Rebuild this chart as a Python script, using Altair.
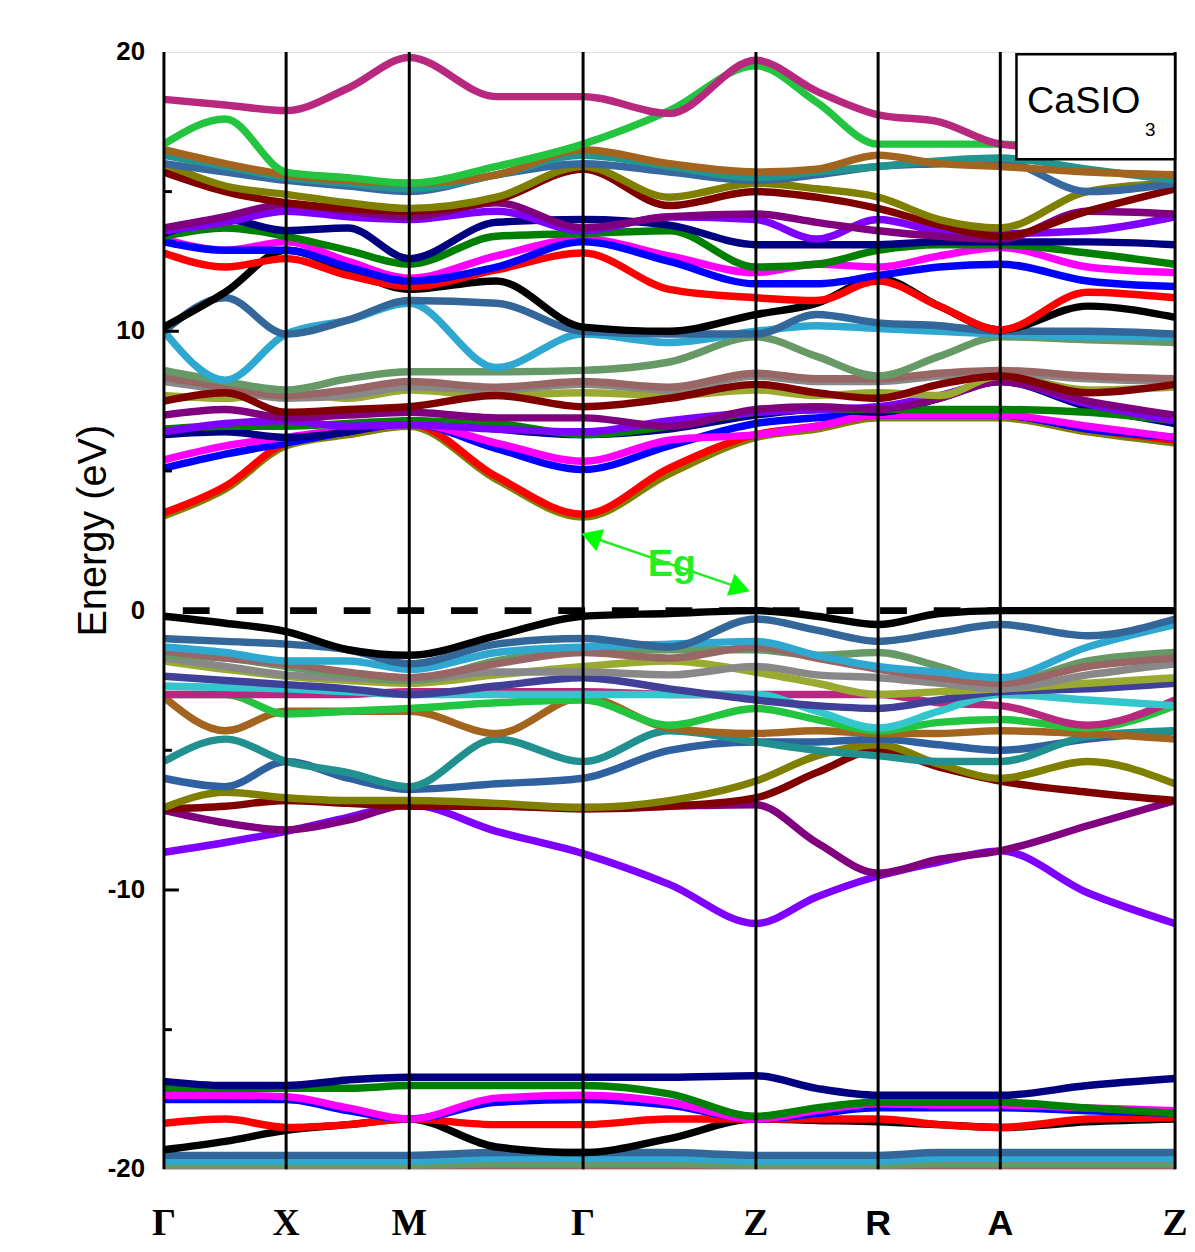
import altair as alt
import pandas as pd

# k-path: grid positions (high-symmetry points at even indices)
K_GRID = [0.0, 0.5, 0.996, 1.5, 2.0, 2.71, 3.417, 4.12, 4.826, 5.32, 5.822, 6.32, 6.818, 7.53, 8.243]
K_POINTS = [0.0, 0.996, 2.0, 3.417, 4.826, 5.822, 6.818, 8.243]
K_LABELS_SERIF = ["Γ", "X", "M", "Γ", "Z", "", "", "Z"]
K_LABELS_SANS = ["", "", "", "", "", "R", "A", ""]
Y_TICKS = [20, 10, 0, -10, -20]
Y_TICK_LABELS = ["20", "10", "0", "-10", "-20"]
MAJOR_TICKS = [10, -10]
MINOR_TICKS = [15, 5, -5, -15]

# conduction bands (eV)
cb_pink = [18.3, 18.1, 17.9, 18.7, 19.8, 18.4, 18.4, 17.8, 19.7, 18.6, 17.75, 17.5, 16.7, 16.5, 16.4]
cb_lime = [16.7, 17.6, 15.7, 15.5, 15.3, 15.9, 16.7, 17.9, 19.5, 18.2, 16.7, 16.7, 16.7, 16.5, 16.4]
cb_brown = [16.5, 16.0, 15.6, 15.4, 15.3, 15.6, 16.5, 16.0, 15.7, 15.8, 16.3, 16.0, 15.9, 15.7, 15.6]
cb_teal = [16.3, 15.9, 15.5, 15.3, 15.1, 15.6, 16.3, 15.9, 15.5, 15.7, 15.9, 16.1, 16.2, 15.8, 15.4]
cb_steel = [16.0, 15.7, 15.4, 15.2, 15.0, 15.6, 16.0, 15.7, 15.4, 15.6, 15.9, 16.0, 16.1, 15.0, 15.3]
cb_olive = [16.0, 15.2, 14.9, 14.6, 14.4, 14.8, 15.9, 14.8, 15.3, 15.1, 14.8, 14.0, 13.7, 15.0, 15.3]
cb_wine = [15.7, 15.0, 14.6, 14.4, 14.3, 14.7, 15.8, 14.5, 15.0, 14.8, 14.4, 13.8, 13.4, 14.3, 15.1]
cb_purple = [13.7, 14.1, 14.55, 14.3, 14.1, 14.6, 13.7, 14.1, 14.2, 13.9, 13.6, 13.4, 13.3, 14.3, 14.2]
cb_violet = [13.6, 13.9, 14.3, 14.1, 14.0, 14.3, 13.6, 14.1, 14.0, 13.3, 14.0, 13.6, 13.5, 13.6, 14.1]
cb_navy = [13.5, 14.0, 13.6, 13.7, 12.6, 13.9, 14.0, 13.8, 13.1, 13.1, 13.1, 13.2, 13.2, 13.2, 13.1]
cb_green = [13.4, 13.7, 13.4, 12.9, 12.4, 13.4, 13.5, 13.6, 12.3, 12.4, 12.9, 13.1, 13.1, 12.8, 12.4]
cb_blue = [13.2, 12.9, 12.9, 12.3, 11.8, 12.3, 13.2, 12.5, 11.7, 11.7, 12.0, 12.3, 12.4, 11.8, 11.6]
cb_magenta = [13.3, 12.9, 13.2, 12.5, 11.9, 12.7, 13.3, 12.7, 12.1, 12.4, 12.3, 12.7, 13.0, 12.3, 12.1]
cb_red = [12.8, 12.3, 12.6, 12.0, 11.6, 12.2, 12.8, 11.5, 11.2, 11.1, 11.8, 10.9, 10.05, 11.4, 11.2]
cb_black = [10.15, 11.4, 12.9, 12.2, 11.5, 11.8, 10.15, 10.0, 10.6, 11.0, 11.9, 10.9, 10.05, 10.9, 10.5]
cb_steel2 = [10.0, 11.2, 9.9, 10.4, 11.1, 11.0, 10.0, 9.9, 9.9, 10.6, 10.3, 10.2, 10.0, 10.0, 9.9]
cb_sky = [10.0, 8.25, 9.9, 10.4, 11.0, 8.7, 9.9, 9.6, 10.0, 10.2, 10.1, 10.0, 9.9, 9.8, 9.8]
cb_sage = [8.6, 8.2, 7.9, 8.3, 8.55, 8.55, 8.6, 8.9, 9.8, 9.1, 8.4, 9.1, 9.8, 9.7, 9.6]
cb_rosy = [8.35, 8.0, 7.7, 7.9, 8.2, 8.0, 8.2, 8.0, 8.5, 8.3, 8.3, 8.5, 8.6, 8.4, 8.3]
cb_gray = [8.2, 7.9, 7.6, 7.7, 8.0, 7.9, 8.1, 7.9, 8.4, 8.2, 8.2, 8.4, 8.5, 8.3, 8.2]
cb_ygreen = [7.7, 7.6, 7.8, 7.6, 7.9, 7.7, 7.8, 7.7, 7.9, 7.7, 7.8, 7.7, 8.4, 7.9, 8.0]
cb_wine2 = [7.5, 7.8, 7.1, 7.2, 7.3, 7.7, 7.3, 7.6, 8.1, 7.8, 7.6, 8.1, 8.4, 7.8, 8.1]
cb_purple2 = [7.0, 7.2, 6.9, 7.0, 7.1, 6.9, 6.9, 6.6, 7.2, 7.3, 7.2, 7.6, 8.2, 7.5, 7.0]
cb_violet2 = [6.4, 6.7, 6.8, 6.6, 6.65, 6.5, 6.4, 6.8, 7.1, 7.2, 7.3, 7.7, 8.2, 7.4, 6.8]
cb_green2 = [6.5, 6.6, 6.6, 6.7, 6.8, 6.7, 6.3, 6.6, 7.1, 7.2, 7.2, 7.2, 7.2, 7.1, 6.8]
cb_navy2 = [6.3, 6.4, 6.2, 6.4, 6.8, 6.5, 6.3, 6.5, 7.0, 7.2, 7.1, 7.6, 8.2, 7.3, 6.7]
cb_blue2 = [5.1, 5.6, 6.0, 6.4, 6.7, 5.8, 5.05, 5.9, 6.7, 6.9, 7.0, 7.0, 7.0, 6.5, 6.2]
cb_magenta2 = [5.4, 5.9, 6.2, 6.5, 6.7, 6.0, 5.35, 6.1, 6.3, 6.6, 7.0, 7.0, 7.0, 6.6, 6.2]
cb_olive2 = [3.4, 4.35, 5.9, 6.3, 6.6, 4.7, 3.35, 4.9, 6.2, 6.5, 6.9, 6.9, 6.9, 6.4, 6.0]
cb_red2 = [3.5, 4.45, 6.0, 6.4, 6.7, 4.8, 3.45, 5.1, 6.3, 6.6, 7.0, 7.0, 7.0, 6.5, 6.1]

# valence bands (eV)
vb_violet = [-8.65, -8.3, -7.9, -7.4, -6.95, -7.9, -8.7, -9.8, -11.2, -10.25, -9.5, -9.0, -8.6, -10.1, -11.2]
vb_purple = [-7.15, -7.6, -7.85, -7.5, -6.95, -7.0, -7.05, -7.0, -6.95, -8.3, -9.4, -8.9, -8.6, -7.7, -6.8]
vb_wine = [-7.1, -7.0, -6.8, -6.9, -7.0, -7.0, -7.1, -7.0, -6.7, -5.8, -5.0, -5.6, -6.1, -6.5, -6.8]
vb_olive = [-7.05, -6.5, -6.7, -6.8, -6.8, -6.9, -7.05, -6.8, -6.1, -5.2, -4.8, -5.5, -6.0, -5.4, -6.2]
vb_steel2 = [-6.0, -6.3, -5.4, -6.0, -6.4, -6.2, -6.0, -5.0, -4.7, -4.7, -4.6, -4.8, -5.0, -4.6, -4.3]
vb_teal = [-5.4, -4.6, -5.4, -5.8, -6.3, -4.6, -5.4, -4.3, -4.7, -5.0, -5.2, -5.4, -5.4, -4.5, -4.3]
vb_brown = [-3.1, -4.3, -3.6, -3.6, -3.6, -4.4, -3.1, -4.2, -4.4, -4.3, -4.4, -4.4, -4.3, -4.4, -4.6]
vb_lime = [-3.0, -3.0, -3.7, -3.6, -3.5, -3.3, -3.2, -4.1, -3.5, -3.9, -4.3, -4.0, -3.9, -4.2, -3.4]
vb_pink = [-3.0, -3.0, -3.0, -3.0, -2.9, -2.9, -2.9, -3.0, -3.0, -3.0, -3.0, -3.3, -3.4, -4.1, -3.2]
vb_cyan = [-2.7, -2.75, -2.8, -2.9, -3.0, -3.0, -3.0, -3.0, -3.0, -3.6, -4.2, -3.6, -3.0, -3.2, -3.4]
vb_slate = [-2.35, -2.5, -2.65, -2.8, -3.0, -2.7, -2.4, -2.8, -3.2, -3.4, -3.5, -3.2, -2.9, -2.8, -2.6]
vb_ygreen = [-1.8, -2.1, -2.35, -2.5, -2.6, -2.3, -2.0, -1.8, -2.2, -2.6, -3.0, -2.9, -2.8, -2.6, -2.4]
vb_gray = [-1.7, -2.0, -2.3, -2.4, -2.5, -2.2, -2.2, -2.3, -2.0, -2.3, -2.4, -2.6, -2.8, -2.3, -1.9]
vb_sage = [-1.6, -1.7, -2.0, -2.3, -2.5, -1.8, -1.4, -1.4, -1.4, -1.6, -1.5, -2.0, -2.6, -1.8, -1.5]
vb_rosy = [-1.45, -1.7, -1.9, -2.2, -2.4, -1.9, -1.5, -1.7, -1.3, -1.7, -2.1, -2.4, -2.6, -2.0, -1.7]
vb_sky = [-1.3, -1.5, -1.8, -1.8, -2.1, -1.5, -1.3, -1.2, -1.1, -1.6, -2.0, -2.2, -2.4, -1.3, -0.5]
vb_steel = [-1.0, -1.1, -1.2, -1.4, -1.9, -1.2, -1.0, -1.3, -0.3, -0.7, -1.1, -0.8, -0.5, -0.9, -0.3]
vb_black = [-0.2, -0.45, -0.75, -1.4, -1.6, -0.9, -0.2, -0.1, 0.0, -0.2, -0.5, -0.1, 0.0, 0.0, 0.0]

# semicore bands (eV)
sc_rosy = [-20.0, -20.0, -20.0, -20.0, -20.0, -20.0, -19.95, -20.0, -20.0, -20.0, -20.0, -20.0, -20.0, -20.0, -20.0]
sc_sage = [-19.85, -19.85, -19.85, -19.85, -19.85, -19.8, -19.8, -19.8, -19.85, -19.85, -19.85, -19.8, -19.8, -19.8, -19.8]
sc_sky = [-19.7, -19.7, -19.7, -19.7, -19.7, -19.6, -19.6, -19.6, -19.7, -19.7, -19.7, -19.6, -19.6, -19.6, -19.6]
sc_steel = [-19.5, -19.5, -19.5, -19.5, -19.5, -19.4, -19.4, -19.4, -19.5, -19.5, -19.5, -19.4, -19.4, -19.4, -19.4]
sc_black = [-19.3, -19.0, -18.6, -18.4, -18.2, -19.2, -19.4, -18.9, -18.2, -18.25, -18.3, -18.4, -18.5, -18.3, -18.2]
sc_red = [-18.35, -18.2, -18.5, -18.4, -18.2, -18.4, -18.4, -18.2, -18.2, -18.2, -18.2, -18.4, -18.5, -18.2, -18.15]
sc_blue = [-17.5, -17.5, -17.5, -17.9, -18.2, -17.6, -17.5, -17.7, -18.2, -18.0, -17.8, -17.8, -17.8, -17.9, -18.0]
sc_magenta = [-17.35, -17.35, -17.4, -17.8, -18.2, -17.45, -17.35, -17.6, -18.2, -17.9, -17.65, -17.7, -17.7, -17.8, -17.9]
sc_green = [-17.1, -17.1, -17.1, -17.1, -17.0, -17.0, -17.0, -17.3, -18.1, -17.8, -17.6, -17.6, -17.6, -17.8, -18.0]
sc_navy = [-16.85, -17.0, -17.0, -16.8, -16.7, -16.7, -16.7, -16.7, -16.65, -17.1, -17.35, -17.35, -17.35, -17.0, -16.75]

BANDS = [
    ("b01", "#996666", sc_rosy), ("b02", "#669966", sc_sage), ("b03", "#2EA8D0", sc_sky),
    ("b04", "#336699", sc_steel), ("b05", "#000000", sc_black), ("b06", "#FF0000", sc_red),
    ("b07", "#0000FF", sc_blue), ("b08", "#FF00FF", sc_magenta), ("b09", "#008000", sc_green),
    ("b10", "#000080", sc_navy),
    ("b11", "#8000FF", vb_violet), ("b12", "#800080", vb_purple), ("b13", "#800000", vb_wine),
    ("b14", "#808000", vb_olive), ("b15", "#2F60A0", vb_steel2), ("b16", "#20918F", vb_teal),
    ("b17", "#A2641E", vb_brown), ("b18", "#22C440", vb_lime), ("b19", "#B8287E", vb_pink),
    ("b20", "#33C6CC", vb_cyan), ("b21", "#404099", vb_slate), ("b22", "#9AAA30", vb_ygreen),
    ("b23", "#888888", vb_gray), ("b24", "#669966", vb_sage), ("b25", "#996666", vb_rosy),
    ("b26", "#2EA8D0", vb_sky), ("b27", "#336699", vb_steel), ("b28", "#000000", vb_black),
    ("b29", "#808000", cb_olive2), ("b30", "#FF0000", cb_red2), ("b31", "#0000FF", cb_blue2),
    ("b32", "#FF00FF", cb_magenta2), ("b33", "#000080", cb_navy2), ("b34", "#008000", cb_green2),
    ("b35", "#8000FF", cb_violet2), ("b36", "#800080", cb_purple2), ("b37", "#9AAA30", cb_ygreen),
    ("b38", "#888888", cb_gray), ("b39", "#996666", cb_rosy), ("b40", "#800000", cb_wine2),
    ("b41", "#669966", cb_sage), ("b42", "#2EA8D0", cb_sky), ("b43", "#336699", cb_steel2),
    ("b44", "#000000", cb_black), ("b45", "#FF0000", cb_red), ("b46", "#FF00FF", cb_magenta),
    ("b47", "#0000FF", cb_blue), ("b48", "#008000", cb_green), ("b49", "#000080", cb_navy),
    ("b50", "#8000FF", cb_violet), ("b51", "#800080", cb_purple), ("b52", "#800000", cb_wine),
    ("b53", "#808000", cb_olive), ("b54", "#3868A0", cb_steel), ("b55", "#229590", cb_teal),
    ("b56", "#A2641E", cb_brown), ("b57", "#22C440", cb_lime), ("b58", "#B8287E", cb_pink),
]

rows = []
for name, color, vals in BANDS:
    for k, e in zip(K_GRID, vals):
        rows.append({"band": name, "k": k, "E": e})
bands_df = pd.DataFrame(rows)

xs = alt.Scale(domain=[0, 8.243], nice=False, zero=False)
ys = alt.Scale(domain=[-20, 20], nice=False, zero=False)

lines = alt.Chart(bands_df).mark_line(strokeWidth=7.5, interpolate="monotone", clip=True).encode(
    x=alt.X("k:Q", scale=xs, axis=None),
    y=alt.Y("E:Q", scale=ys, axis=None),
    color=alt.Color("band:N", scale=alt.Scale(domain=[b[0] for b in BANDS], range=[b[1] for b in BANDS]), legend=None),
    detail="band:N",
)

kdf = pd.DataFrame({"k": K_POINTS, "serif": K_LABELS_SERIF, "sans": K_LABELS_SANS})

vlines = alt.Chart(kdf).mark_rule(color="black", strokeWidth=3).encode(
    x=alt.X("k:Q", scale=xs, axis=None)
)

zero_line = alt.Chart(pd.DataFrame({"E": [0]})).mark_rule(
    color="black", strokeWidth=7, strokeDash=[27, 27]
).encode(y=alt.Y("E:Q", scale=ys, axis=None))

major_ticks = alt.Chart(pd.DataFrame({"E": MAJOR_TICKS})).mark_rule(color="black", strokeWidth=3).encode(
    y=alt.Y("E:Q", scale=ys, axis=None), x=alt.value(0), x2=alt.value(15)
)
minor_ticks = alt.Chart(pd.DataFrame({"E": MINOR_TICKS})).mark_rule(color="black", strokeWidth=3).encode(
    y=alt.Y("E:Q", scale=ys, axis=None), x=alt.value(0), x2=alt.value(8)
)

# y tick labels and title
ylabels = alt.Chart(pd.DataFrame({"E": Y_TICKS, "t": Y_TICK_LABELS})).mark_text(
    font="Liberation Sans", fontWeight="bold", fontSize=26, align="right", baseline="middle", color="black"
).encode(x=alt.value(-19), y=alt.Y("E:Q", scale=ys, axis=None), text="t:N")
ytitle = alt.Chart(pd.DataFrame({"t": ["Energy (eV)"]})).mark_text(
    font="Liberation Sans", fontSize=40, angle=270, align="center", baseline="middle", color="black"
).encode(x=alt.value(-70), y=alt.value(482), text="t:N")

klab_serif = alt.Chart(kdf).mark_text(
    font="Liberation Serif", fontWeight="bold", fontSize=38, baseline="middle", color="black"
).encode(x=alt.X("k:Q", scale=xs, axis=None), y=alt.value(1180), text="serif:N")
klab_sans = alt.Chart(kdf).mark_text(
    font="Liberation Sans", fontWeight="bold", fontSize=36, baseline="middle", color="black"
).encode(x=alt.X("k:Q", scale=xs, axis=None), y=alt.value(1180), text="sans:N")

# legend box with compound name
box = alt.Chart(pd.DataFrame({"k": [6.95], "k2": [8.243], "E": [19.92], "E2": [16.16]})).mark_rect(
    fill="white", stroke="black", strokeWidth=2.5
).encode(
    x=alt.X("k:Q", scale=xs, axis=None), x2="k2:Q",
    y=alt.Y("E:Q", scale=ys, axis=None), y2="E2:Q",
)
name_txt = alt.Chart(pd.DataFrame({"k": [7.96], "E": [17.8], "t": ["CaSIO"]})).mark_text(
    font="Liberation Sans", fontSize=38, align="right", baseline="alphabetic", color="black"
).encode(x=alt.X("k:Q", scale=xs, axis=None), y=alt.Y("E:Q", scale=ys, axis=None), text="t:N")
sub_txt = alt.Chart(pd.DataFrame({"k": [8.04], "E": [17.2], "t": ["3"]})).mark_text(
    font="Liberation Sans", fontSize=19, align="center", baseline="middle", color="black"
).encode(x=alt.X("k:Q", scale=xs, axis=None), y=alt.Y("E:Q", scale=ys, axis=None), text="t:N")

# Eg arrow
arrow_df = pd.DataFrame({"k": [3.506, 4.672], "E": [2.6, 0.85], "ang": [289, 109]})
arrow_line = alt.Chart(arrow_df).mark_line(color="#22EE22", strokeWidth=2.5).encode(
    x=alt.X("k:Q", scale=xs, axis=None), y=alt.Y("E:Q", scale=ys, axis=None)
)
arrow_heads = alt.Chart(arrow_df).mark_point(
    shape="triangle", filled=True, color="#00FF00", size=550, opacity=1
).encode(
    x=alt.X("k:Q", scale=xs, axis=None), y=alt.Y("E:Q", scale=ys, axis=None),
    angle=alt.Angle("ang:Q", scale=None),
)
eg_txt = alt.Chart(pd.DataFrame({"k": [4.14], "E": [1.64], "t": ["Eg"]})).mark_text(
    font="Liberation Sans", fontWeight="bold", fontSize=38, color="#22EE22", baseline="middle"
).encode(x=alt.X("k:Q", scale=xs, axis=None), y=alt.Y("E:Q", scale=ys, axis=None), text="t:N")

chart = alt.layer(
    lines, zero_line, vlines, major_ticks, minor_ticks, ylabels, ytitle, klab_serif, klab_sans,
    box, name_txt, sub_txt, arrow_line, arrow_heads, eg_txt,
).properties(
    width=1018, height=1125,
    padding={"left": 157, "top": 40, "right": 12, "bottom": 78},
    autosize=alt.AutoSizeParams(type="none"),
).configure_view(
    stroke="black", strokeWidth=3
).configure(background="white")

chart.save("out.html", embed_options={"renderer": "svg", "actions": False})
